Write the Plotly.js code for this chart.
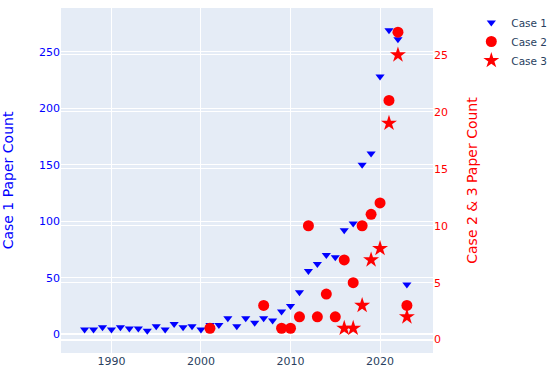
<!DOCTYPE html>
<html>
<head>
<meta charset="utf-8">
<script src="https://cdn.plot.ly/plotly-3.0.1.min.js"></script>
<style>
  html, body { margin: 0; padding: 0; background: #fff; }
  #chart { width: 549px; height: 369px; }
</style>
</head>
<body>
<div id="chart"></div>
<script>
// Case 1: yearly paper counts (left axis)
const case1Years = [1987, 1988, 1989, 1990, 1991, 1992, 1993, 1994, 1995, 1996,
    1997, 1998, 1999, 2000, 2001, 2002, 2003, 2004, 2005, 2006,
    2007, 2008, 2009, 2010, 2011, 2012, 2013, 2014, 2015, 2016,
    2017, 2018, 2019, 2020, 2021, 2022, 2023];
const case1Counts = [4, 4, 6, 4, 6, 5, 5, 3, 7, 4,
    9, 6, 7, 4, 8, 8, 14, 7, 14, 10,
    14, 12, 20, 25, 37, 56, 62, 70, 68, 92,
    98, 150, 160, 228, 269, 261, 44];

// Case 2 (right axis)
const case2Years = [2001, 2007, 2009, 2010, 2011, 2012, 2013, 2014, 2015, 2016,
    2017, 2018, 2019, 2020, 2021, 2022, 2023];
const case2Counts = [1, 3, 1, 1, 2, 10, 2, 4, 2, 7,
    5, 10, 11, 12, 21, 27, 3];

// Case 3 (right axis)
const case3Years = [2016, 2017, 2018, 2019, 2020, 2021, 2022, 2023];
const case3Counts = [1, 1, 3, 7, 8, 19, 25, 2];

const traces = [
    {
        x: case1Years, y: case1Counts,
        name: 'Case 1', type: 'scatter', mode: 'markers',
        marker: { symbol: 'triangle-down', color: 'blue', size: 8 }
    },
    {
        x: case2Years, y: case2Counts,
        name: 'Case 2', type: 'scatter', mode: 'markers', yaxis: 'y2',
        marker: { symbol: 'circle', color: 'red', size: 11 }
    },
    {
        x: case3Years, y: case3Counts,
        name: 'Case 3', type: 'scatter', mode: 'markers', yaxis: 'y2',
        marker: { symbol: 'star', color: 'red', size: 12 }
    }
];

const layout = {
    width: 549,
    height: 369,
    // keep the plot area fixed, the legend may sit in the margin
    margin: { l: 61, r: 116, t: 8, b: 16, autoexpand: false },
    font: { family: '"DejaVu Sans", sans-serif', color: '#2a3f5f', size: 11 },
    plot_bgcolor: '#e5ecf6',
    paper_bgcolor: '#fff',
    xaxis: {
        gridcolor: '#fff',
        zeroline: false,
        automargin: false
    },
    yaxis: {
        title: { text: 'Case 1 Paper Count', font: { color: 'blue', size: 14 }, standoff: 25 },
        tickfont: { color: 'blue' },
        gridcolor: '#fff',
        zeroline: true,
        zerolinecolor: '#fff',
        zerolinewidth: 2,
        automargin: false
    },
    yaxis2: {
        title: { text: 'Case 2 & 3 Paper Count', font: { color: 'red', size: 14 }, standoff: 20 },
        tickfont: { color: 'red' },
        overlaying: 'y',
        side: 'right',
        gridcolor: '#fff',
        zeroline: true,
        zerolinecolor: '#fff',
        zerolinewidth: 2,
        automargin: false
    },
    legend: { x: 1.103, y: 1, font: { size: 10.5 } },
    showlegend: true
};

Plotly.newPlot('chart', traces, layout, { displayModeBar: false });
</script>
</body>
</html>
